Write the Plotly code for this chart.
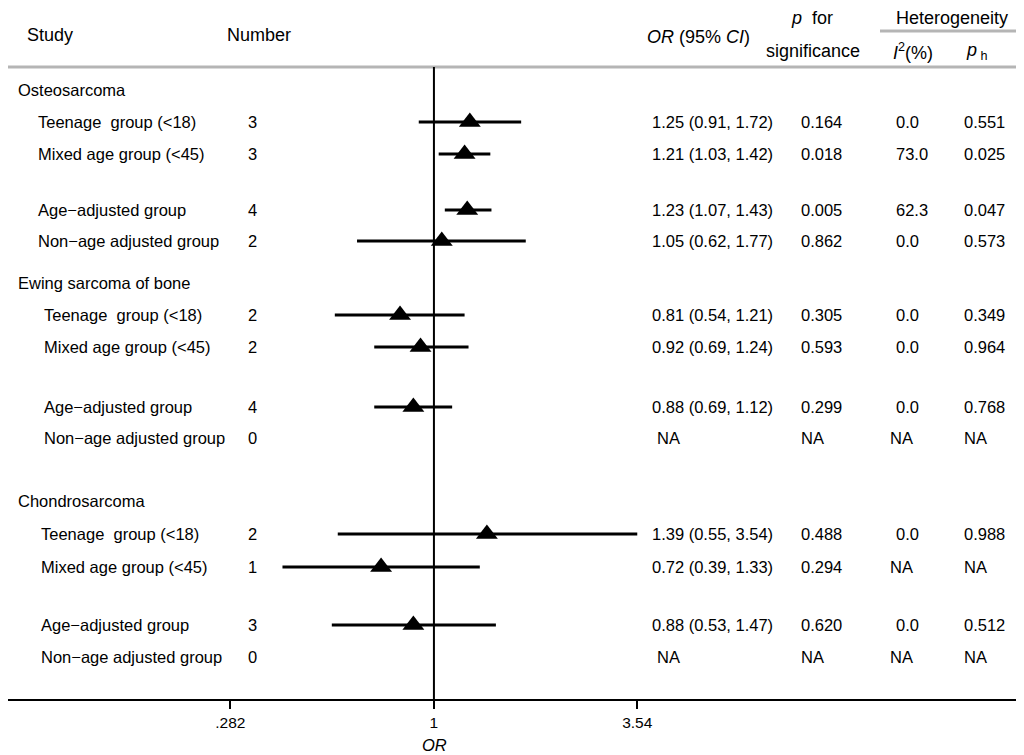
import plotly.graph_objects as go

# rows of the forest plot (None = group heading / no estimate)
labels = ["Osteosarcoma", "Teenage  group (<18)", "Mixed age group (<45)",
          "Age\u2212adjusted group", "Non\u2212age adjusted group",
          "Ewing sarcoma of bone", "Teenage  group (<18)", "Mixed age group (<45)",
          "Age\u2212adjusted group", "Non\u2212age adjusted group",
          "Chondrosarcoma", "Teenage  group (<18)", "Mixed age group (<45)",
          "Age\u2212adjusted group", "Non\u2212age adjusted group"]
is_header = [True, False, False, False, False,
             True, False, False, False, False,
             True, False, False, False, False]
number = ["", "3", "3", "4", "2", "", "2", "2", "4", "0", "", "2", "1", "3", "0"]
odds = [None, 1.25, 1.21, 1.23, 1.05, None, 0.81, 0.92, 0.88, None,
        None, 1.39, 0.72, 0.88, None]
ci_low = [None, 0.91, 1.03, 1.07, 0.62, None, 0.54, 0.69, 0.69, None,
          None, 0.55, 0.39, 0.53, None]
ci_high = [None, 1.72, 1.42, 1.43, 1.77, None, 1.21, 1.24, 1.12, None,
           None, 3.54, 1.33, 1.47, None]
p_sig = ["", "0.164", "0.018", "0.005", "0.862", "", "0.305", "0.593", "0.299", "NA",
         "", "0.488", "0.294", "0.620", "NA"]
i2 = ["", "0.0", "73.0", "62.3", "0.0", "", "0.0", "0.0", "0.0", "NA",
      "", "0.0", "NA", "0.0", "NA"]
p_het = ["", "0.551", "0.025", "0.047", "0.573", "", "0.349", "0.964", "0.768", "NA",
         "", "0.988", "NA", "0.512", "NA"]
tick_vals = [0.282, 1, 3.54]
tick_text = [".282", "1", "3.54"]

# vertical layout: row centres in page pixels
row_y = [90, 122, 154, 210, 241, 283, 315, 347, 407, 438, 501, 534, 567, 625, 657]
indent = [16, 36, 36, 36, 36, 16, 42, 42, 42, 42, 16, 39, 39, 39, 39]

# page has an 8px body margin, so the figure is shrunk by that amount
OFF = 8
W, H = 1024 - OFF, 755 - OFF
TOP, BOT = 67, 699          # plot area in page pixels
ML, MR = 0, 6
MT, MB = TOP - OFF, H - (BOT - OFF)
PW = W - ML - MR
FONT = "Liberation Sans, Arial, sans-serif"


def px(x):
    return (x - OFF - ML) / PW


def py(y):
    return (BOT - y) / (BOT - TOP)


fig = go.Figure()

# confidence interval lines
lx, ly = [], []
for lo, hi, y in zip(ci_low, ci_high, row_y):
    if lo is None:
        continue
    lx += [lo, hi, None]
    ly += [y, y, None]
fig.add_trace(go.Scatter(x=lx, y=ly, mode="lines",
                         line=dict(color="black", width=3), hoverinfo="skip"))

# point estimates
pts = [(o, y) for o, y in zip(odds, row_y) if o is not None]
fig.add_trace(go.Scatter(x=[p[0] for p in pts], y=[p[1] for p in pts], mode="markers",
                         marker=dict(symbol="triangle-up", size=19, color="black")))

ann = []


def txt(x, y, s, anchor="left", size=16.5):
    ann.append(dict(x=px(x), y=py(y), xref="paper", yref="paper", text=s, showarrow=False,
                    xanchor=anchor, yanchor="middle",
                    font=dict(size=size, color="black", family=FONT)))


for i, y in enumerate(row_y):
    txt(indent[i], y, labels[i])
    if number[i]:
        txt(246, y, number[i])
    if is_header[i]:
        continue
    if odds[i] is not None:
        txt(650, y, "%.2f (%.2f, %.2f)" % (odds[i], ci_low[i], ci_high[i]))
    else:
        txt(655, y, "NA")
    txt(799, y, p_sig[i])
    txt(888 if i2[i] == "NA" else 894, y, i2[i])
    txt(962, y, p_het[i])

# column headings
HS = 18
txt(25, 35, "Study", size=HS)
txt(225, 35, "Number", size=HS)
txt(645, 37, "<i>OR</i> (95% <i>CI</i>)", size=HS)
txt(789, 18, "<i>p</i>  for", size=HS)
txt(764, 51, "significance", size=HS)
txt(952, 18, "Heterogeneity", anchor="center", size=HS)
txt(891, 51, "<i>I</i><sup>2</sup>(%)", size=HS)
txt(964, 51, "<i>p</i><sub> h</sub>", size=HS)
txt(434, 745, "<i>OR</i>", anchor="center", size=16.5)

fig.update_layout(
    width=W, height=H,
    margin=dict(l=ML, r=MR, t=MT, b=MB),
    paper_bgcolor="white", plot_bgcolor="white",
    showlegend=False,
    font=dict(family=FONT, size=15, color="black"),
    annotations=ann,
    shapes=[
        dict(type="line", xref="paper", yref="paper", x0=0, x1=1, y0=1, y1=1,
             line=dict(color="#b5b5b5", width=3)),
        dict(type="line", xref="paper", yref="paper", x0=px(880), x1=1,
             y0=py(31), y1=py(31), line=dict(color="#b5b5b5", width=3)),
        dict(type="line", xref="x", yref="paper", x0=1, x1=1, y0=0, y1=1,
             line=dict(color="black", width=2)),
    ],
    xaxis=dict(type="log", range=[-1.150, 1.577], tickvals=tick_vals, ticktext=tick_text,
               showgrid=False, zeroline=False, showline=True, linecolor="black",
               linewidth=2, ticks="outside", ticklen=8, tickwidth=2, tickcolor="black",
               tickfont=dict(size=15.5, family=FONT)),
    yaxis=dict(range=[BOT, TOP], showgrid=False, zeroline=False, showticklabels=False,
               visible=False),
)

fig.write_html("out.html")
